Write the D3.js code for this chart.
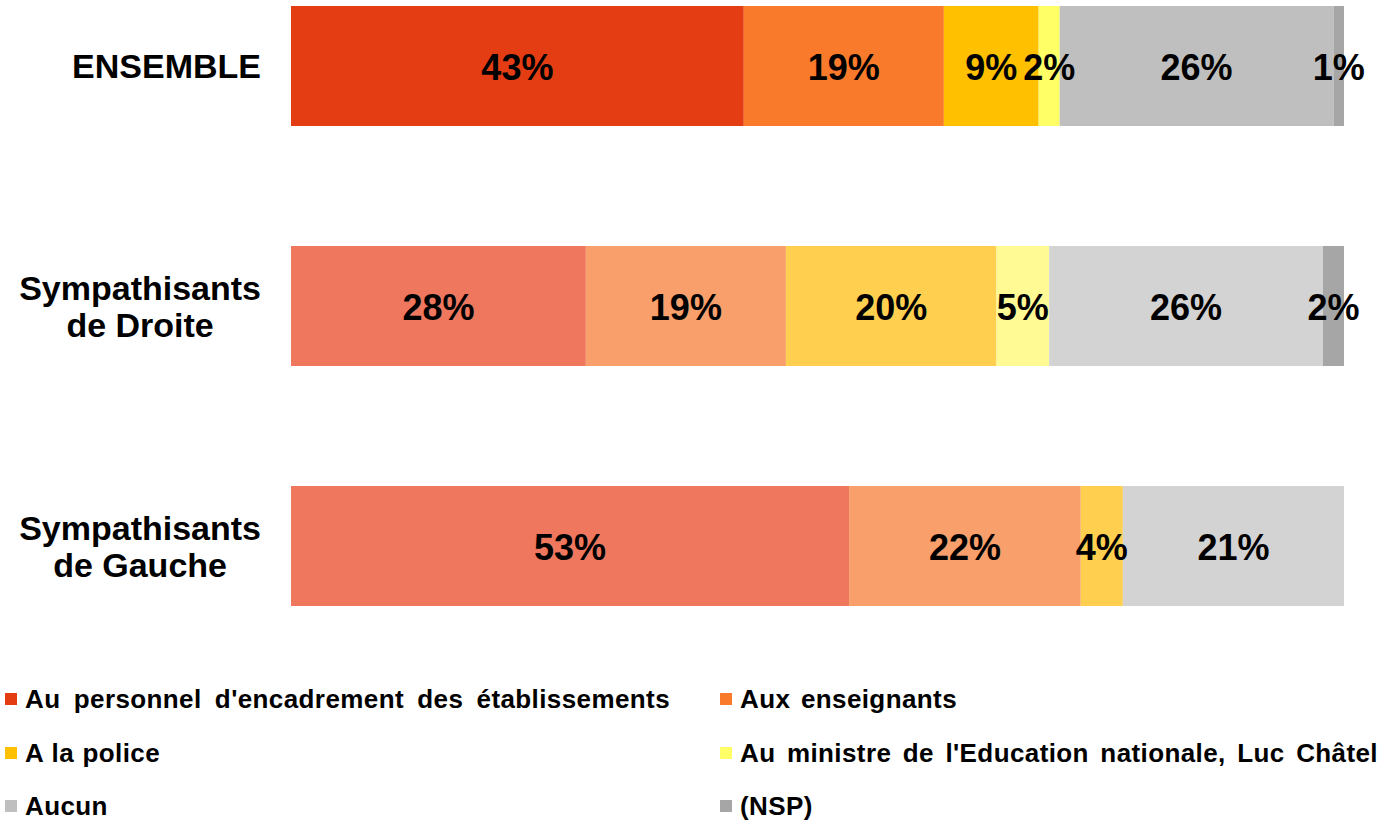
<!DOCTYPE html>
<html>
<head>
<meta charset="utf-8">
<script src="https://cdn.jsdelivr.net/npm/d3@7"></script>
<style>
  body { margin: 0; background: #fff; }
  svg { display: block; font-family: "Liberation Sans", Arial, sans-serif; }
</style>
</head>
<body>
<svg id="chart" width="1381" height="821"></svg>
<script>
const categories = ["ENSEMBLE", "Sympathisants de Droite", "Sympathisants de Gauche"];
const categoryLines = [["ENSEMBLE"], ["Sympathisants", "de Droite"], ["Sympathisants", "de Gauche"]];
const seriesNames = [
  "Au personnel d'encadrement des établissements",
  "Aux enseignants",
  "A la police",
  "Au ministre de l'Education nationale, Luc Châtel",
  "Aucun",
  "(NSP)"
];
const ensembleValues = [43, 19, 9, 2, 26, 1];
const droiteValues = [28, 19, 20, 5, 26, 2];
const gaucheValues = [53, 22, 4, 0, 21, 0];

const darkColors = ["#e53d13", "#f97a2b", "#ffc000", "#ffff66", "#bfbfbf", "#a6a6a6"];
const lightColors = ["#ee775e", "#f89f6b", "#ffd050", "#fffa94", "#d3d3d3", "#a6a6a6"];

const svg = d3.select("#chart");

const x = d3.scaleLinear().domain([0, 100]).range([291, 1344]);
const y = d3.scaleBand()
  .domain(categories)
  .range([-54, 666])
  .paddingInner(0.5)
  .paddingOuter(0.25);

const rows = [ensembleValues, droiteValues, gaucheValues].map((vals, i) => {
  let acc = 0;
  return vals.map((v, j) => {
    const seg = { cat: categories[i], row: i, idx: j, value: v, x0: acc, x1: acc + v };
    acc += v;
    return seg;
  }).filter(d => d.value > 0);
});

const segs = rows.flat();

svg.append("g")
  .selectAll("rect")
  .data(segs)
  .join("rect")
  .attr("x", d => x(d.x0))
  .attr("y", d => y(d.cat))
  .attr("width", d => x(d.x1) - x(d.x0))
  .attr("height", y.bandwidth())
  .attr("fill", d => (d.row === 0 ? darkColors : lightColors)[d.idx]);

svg.append("g")
  .selectAll("text")
  .data(segs)
  .join("text")
  .attr("x", d => (x(d.x0) + x(d.x1)) / 2)
  .attr("y", d => y(d.cat) + y.bandwidth() / 2 + 14)
  .attr("text-anchor", "middle")
  .attr("font-size", 36)
  .attr("font-weight", "bold")
  .attr("fill", "#000")
  .text(d => d.value + "%");

// category labels: block right-aligned, lines centred inside the block
const labelRight = 261;
const catG = svg.append("g");
categoryLines.forEach((lines, i) => {
  const cy = y(categories[i]) + y.bandwidth() / 2;
  const lh = 37;
  const t = catG.append("text")
    .attr("text-anchor", "middle")
    .attr("font-size", 34)
    .attr("font-weight", "bold")
    .attr("fill", "#000");
  const spans = lines.map((ln, k) =>
    t.append("tspan")
      .attr("y", cy + 12 + (k - (lines.length - 1) / 2) * lh)
      .text(ln)
  );
  const maxW = d3.max(spans, s => s.node().getComputedTextLength());
  spans.forEach(s => s.attr("x", labelRight - maxW / 2));
});

// legend
const legendPos = [
  [5, 699], [720, 699],
  [5, 753], [720, 753],
  [5, 806], [720, 806]
];
const legendWidths = [645, 217, 135, 638, 85, 77];

const legend = svg.append("g")
  .selectAll("g")
  .data(seriesNames)
  .join("g")
  .attr("transform", (d, i) => `translate(${legendPos[i][0]},${legendPos[i][1]})`);

legend.append("rect")
  .attr("x", 0)
  .attr("y", -6)
  .attr("width", 12)
  .attr("height", 12)
  .attr("fill", (d, i) => darkColors[i]);

legend.append("text")
  .attr("x", 20)
  .attr("y", 9)
  .attr("font-size", 26)
  .attr("font-weight", "bold")
  .attr("letter-spacing", 0.4)
  .attr("fill", "#000")
  .text(d => d)
  .each(function (d, i) {
    const el = d3.select(this);
    const natural = this.getComputedTextLength();
    const target = legendWidths[i];
    const spaces = (d.match(/ /g) || []).length;
    if (natural < target && spaces > 0) {
      el.attr("word-spacing", Math.min(12, (target - natural) / spaces));
    } else if (natural > target) {
      el.attr("textLength", target).attr("lengthAdjust", "spacingAndGlyphs");
    }
  });
</script>
</body>
</html>
